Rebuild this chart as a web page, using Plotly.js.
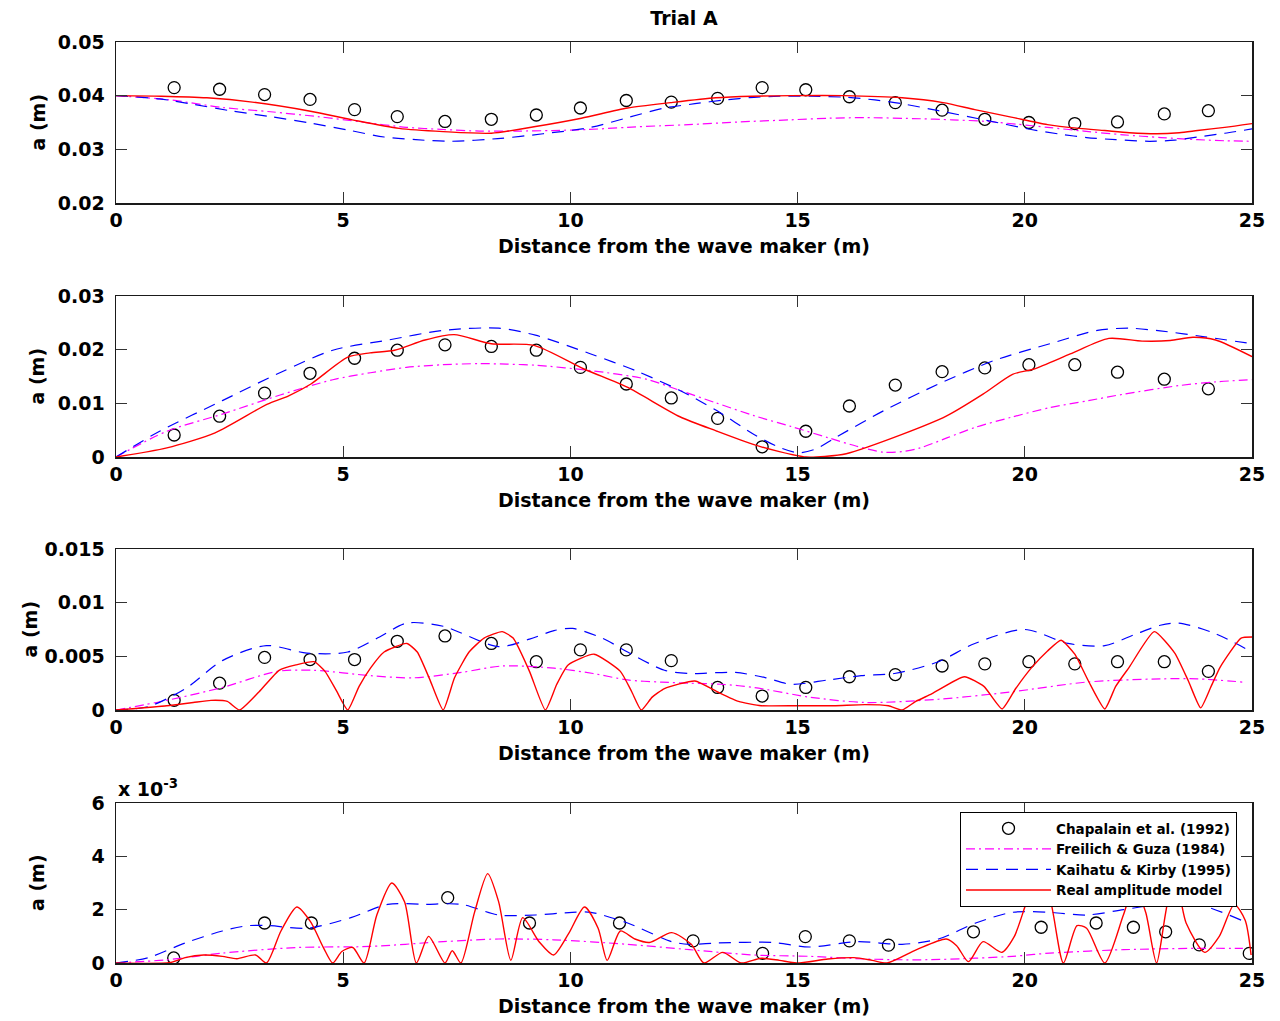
<!DOCTYPE html>
<html>
<head>
<meta charset="utf-8">
<script src="https://cdn.plot.ly/plotly-3.0.1.min.js"></script>
<style>html,body{margin:0;padding:0;background:#fff}#chart{width:1280px;height:1021px}</style>
</head>
<body>
<div id="chart"></div>
<script>
// ---------- Data (a in metres, x in metres) ----------
var xObs = [1.28,2.28,3.27,4.27,5.25,6.19,7.24,8.26,9.25,10.22,11.23,12.22,13.24,14.22,15.18,16.14,17.15,18.18,19.12,20.09,21.1,22.04,23.07,24.04];
var obs1 = [0.0415,0.0412,0.0402,0.0393,0.0374,0.0361,0.0352,0.0356,0.0364,0.0377,0.0391,0.0388,0.0395,0.0415,0.0411,0.0398,0.0387,0.0373,0.0356,0.0350,0.0348,0.0351,0.0366,0.0372];
var obs2 = [0.0041,0.0076,0.0119,0.0156,0.0184,0.0199,0.0209,0.0206,0.0199,0.0167,0.0136,0.0110,0.0072,0.0019,0.0048,0.0095,0.0134,0.0159,0.0166,0.0172,0.0172,0.0158,0.0145,0.0127];
var obs3 = [0.0009,0.0025,0.0049,0.0047,0.0047,0.0064,0.0069,0.0062,0.0045,0.0056,0.0056,0.0046,0.0021,0.0013,0.0021,0.0031,0.0033,0.0041,0.0043,0.0045,0.0043,0.0045,0.0045,0.0036];
var xObs4 = [1.27,3.27,4.3,7.3,9.1,11.08,12.7,14.23,15.17,16.14,17.0,18.87,20.36,21.57,22.39,23.1,23.84,24.94];
var obs4 = [0.00019,0.0015,0.0015,0.00245,0.0015,0.0015,0.00083,0.00036,0.00099,0.00083,0.00067,0.00117,0.00134,0.0015,0.00134,0.00117,0.00068,0.00036];

// Panel 1 models
var xFG1 = [0,1.2,2.34,3.4,4.44,5.4,6.39,7.2,8.0,8.8,9.6,10.4,11.26,12.0,12.6,13.7,14.85,15.7,16.48,17.7,18.4,19.16,19.8,20.5,21.3,22.17,23.0,23.8,24.4,25];
var yFG1 = [0.0400,0.0392,0.0378,0.0370,0.0361,0.0351,0.0341,0.0337,0.0334,0.0334,0.0335,0.0337,0.0341,0.0344,0.0346,0.0351,0.0355,0.0358,0.0359,0.0357,0.0355,0.0352,0.0347,0.0341,0.0334,0.0327,0.0322,0.0318,0.0316,0.0315];
var xKK1 = [0,0.96,1.7,2.5,3.4,4.28,5.1,5.9,6.6,7.36,8.4,9.4,10.45,11.3,12.07,12.74,13.4,14.04,14.6,15.26,16.07,16.7,17.3,18.1,19.16,20.14,20.8,21.36,22.0,22.74,23.3,23.8,24.4,25];
var yKK1 = [0.0400,0.0394,0.0384,0.0372,0.0361,0.0349,0.0336,0.0323,0.0318,0.0315,0.0320,0.0329,0.0341,0.0360,0.0377,0.0385,0.0392,0.0397,0.0399,0.0399,0.0397,0.0392,0.0385,0.0372,0.0354,0.0337,0.0328,0.0322,0.0318,0.0315,0.0317,0.0323,0.0330,0.0338];
var xRM1 = [0,1.0,2.0,3.0,4.28,5.2,6.23,7.2,8.26,9.2,10.24,11.26,12.21,13.2,14.0,14.85,16.0,17.3,18.2,18.9,19.7,20.5,21.2,21.76,22.3,22.9,23.4,23.8,24.4,25];
var yRM1 = [0.0400,0.0399,0.0396,0.0388,0.0371,0.0355,0.0339,0.0333,0.0330,0.0342,0.0358,0.0377,0.0387,0.0396,0.0399,0.0400,0.0400,0.0396,0.0387,0.0374,0.0360,0.0346,0.0339,0.0335,0.0331,0.0329,0.0331,0.0335,0.0341,0.0348];

// Panel 2 models
var xFG2 = [0,1.12,2.34,3.63,4.77,5.6,6.39,7.2,8.0,8.6,9.23,10.45,11.67,12.41,13.2,14.04,14.85,15.67,16.3,16.89,17.3,17.7,18.3,18.9,19.7,20.55,21.4,22.17,23.39,24.2,25];
var yFG2 = [0,0.0048,0.0080,0.0116,0.0144,0.0157,0.0167,0.0172,0.0174,0.0173,0.0171,0.0161,0.0145,0.0124,0.0101,0.0077,0.0057,0.0036,0.0020,0.0009,0.0010,0.0017,0.0036,0.0055,0.0074,0.0092,0.0105,0.0117,0.0133,0.0140,0.0144];
var xKK2 = [0,0.96,2.34,3.63,4.77,5.99,7.2,8.42,9.23,10.45,11.43,12.41,13.23,14.04,14.6,15.02,15.4,15.83,16.89,18.1,19.33,20.55,21.6,22.3,22.98,23.96,25];
var yKK2 = [0,0.0048,0.0105,0.0158,0.0199,0.0218,0.0236,0.0240,0.0227,0.0192,0.0161,0.0124,0.0086,0.0042,0.0018,0.0008,0.0015,0.0036,0.0086,0.0136,0.0180,0.0211,0.0236,0.0240,0.0235,0.0224,0.0211];
var xRM2 = [0,1.12,2.18,3.32,3.8,4.29,5.1,5.59,6.13,6.8,7.44,8.26,9.2,10.3,11.25,12.41,13.23,14.04,14.6,15.18,15.6,16.07,17.3,18.27,19.08,19.73,20.2,21.0,21.85,22.58,23.2,23.7,24.2,25];
var yRM2 = [0,0.0017,0.0045,0.0098,0.0114,0.0136,0.0186,0.0194,0.0199,0.0218,0.0228,0.0211,0.0208,0.0164,0.0130,0.0075,0.0048,0.0023,0.0010,0.0000,0.0001,0.0006,0.0042,0.0076,0.0117,0.0154,0.0164,0.0192,0.0221,0.0216,0.0217,0.0223,0.0218,0.0187];

// Panel 3 models
var xFG3 = [0,1.12,2.34,3.55,4.36,5.6,6.55,7.6,8.5,9.64,10.5,11.26,12.0,12.62,13.3,14.04,15.26,16.48,18.1,19.73,21.36,22.98,23.8,24.8];
var yFG3 = [0,0.0009,0.0021,0.0036,0.0037,0.0032,0.0030,0.0035,0.0041,0.0039,0.0034,0.0028,0.0026,0.0025,0.0024,0.0021,0.0012,0.0007,0.0010,0.0017,0.0026,0.0029,0.0029,0.0026];
var xKK3 = [0,0.7,1.53,2.34,3.31,4.2,5.1,5.8,6.4,7.2,8.42,9.1,9.64,10.05,10.7,11.26,12.07,12.62,13.63,14.3,14.85,15.67,16.4,17.13,18.1,18.9,20.0,20.95,21.76,22.4,22.98,23.39,24.2,25];
var yKK3 = [0,0.0003,0.0020,0.0046,0.0060,0.0053,0.0054,0.0068,0.0081,0.0078,0.0059,0.0066,0.0074,0.0076,0.0067,0.0054,0.0037,0.0034,0.0035,0.0030,0.0024,0.0028,0.0032,0.0034,0.0045,0.0062,0.0075,0.0062,0.0060,0.0070,0.0079,0.0081,0.0071,0.0054];
var xRM3 = [0,1.12,1.7,2.09,2.45,2.72,3.15,3.59,3.96,4.36,4.6,4.85,5.1,5.35,5.6,5.9,6.4,6.63,6.9,7.2,7.45,7.77,8.1,8.5,8.74,9.1,9.45,9.7,9.95,10.52,11.1,11.35,11.56,11.8,12.07,12.74,13.23,13.7,14.2,15.0,15.8,16.48,17.0,17.3,17.6,17.95,18.67,19.1,19.5,19.8,20.14,20.5,20.8,21.1,21.4,21.76,22.0,22.3,22.85,23.3,23.6,23.87,24.1,24.3,24.76,25];
var yRM3 = [0,0.0004,0.0007,0.0009,0.0008,0.0000,0.0017,0.0037,0.0042,0.0045,0.0036,0.0018,0.0000,0.0022,0.0039,0.0054,0.0062,0.0054,0.0029,0.0000,0.0030,0.0054,0.0067,0.0073,0.0067,0.0036,0.0000,0.0024,0.0042,0.0052,0.0036,0.0017,0.0000,0.0012,0.0020,0.0027,0.0017,0.0008,0.0004,0.0004,0.0004,0.0005,0.0004,0.0000,0.0008,0.0015,0.0031,0.0022,0.0001,0.0020,0.0039,0.0055,0.0065,0.0052,0.0027,0.0001,0.0022,0.0040,0.0073,0.0053,0.0027,0.0002,0.0022,0.0040,0.0067,0.0068];

// Panel 4 models
var xFG4 = [0,1.12,2.34,3.96,5.58,7.2,8.42,9.63,11.26,12.62,14.04,15.26,16.48,17.7,18.92,19.73,20.55,22.17,23.8,24.8];
var yFG4 = [0,0.00012,0.00037,0.00058,0.00062,0.0008,0.0009,0.00087,0.0007,0.0005,0.0003,0.00025,0.00015,0.00012,0.00018,0.00025,0.00037,0.0005,0.00055,0.00055];
var xKK4 = [0,0.71,1.52,2.34,2.9,3.39,4.2,5.17,5.98,6.8,7.6,8.42,9.23,10.04,10.45,11.26,12.23,12.62,13.23,14.45,15.26,16.32,17.3,18.1,18.92,19.73,20.55,21.36,22.17,22.98,23.8,24.77];
var yKK4 = [0,0.0002,0.00075,0.0012,0.0014,0.0014,0.0013,0.0017,0.0022,0.0022,0.0022,0.0018,0.0018,0.0019,0.0019,0.0015,0.0008,0.0007,0.00075,0.00077,0.0006,0.0008,0.0007,0.0009,0.0015,0.0019,0.0019,0.0018,0.002,0.0022,0.0022,0.0016];
var xRM4 = [0,1.2,1.52,1.93,2.34,2.66,3.07,3.31,3.63,3.98,4.28,4.57,4.77,4.97,5.21,5.46,5.74,6.07,6.35,6.61,6.88,7.24,7.4,7.59,7.89,8.18,8.42,8.69,8.95,9.31,9.63,9.96,10.31,10.61,10.81,11.1,11.42,11.74,12.23,12.66,12.94,13.35,13.76,14.2,14.6,14.98,15.67,16.24,16.64,16.97,17.62,18.27,18.5,18.76,19.08,19.49,19.77,20.14,20.34,20.54,20.85,21.15,21.36,21.76,22.17,22.41,22.66,22.9,23.18,23.35,23.55,23.96,24.28,24.61,24.85,24.98];
var yRM4 = [0,0.00002,0.0002,0.0003,0.00025,0.00016,0.0003,0,0.0012,0.0021,0.00155,0.00056,0,0.00043,0.00058,0,0.0018,0.003,0.0023,0,0.001,0,0.00046,0,0.0019,0.00335,0.0023,0.0001,0.0017,0.0008,0.0003,0.0011,0.0021,0.0013,0.0001,0.0012,0.0009,0.00077,0.00114,0.0007,0,0.0004,0,0.00018,0.0001,0,0.00015,0.0002,0.0001,0,0.0005,0.0009,0.00065,0.00005,0.0008,0.0004,0.001,0.0027,0.003,0.0025,0,0.0014,0.0013,0,0.0018,0.0029,0.0019,0,0.0025,0.0028,0.0015,0.0004,0.001,0.0022,0.0016,0.0003];

var legendNames = ['Chapalain et al. (1992)','Freilich & Guza (1984)','Kaihatu & Kirby (1995)','Real amplitude model'];
var xTickVals = [0,5,10,15,20,25];
var yTicks = [
  {vals:[0.02,0.03,0.04,0.05], text:['0.02','0.03','0.04','0.05'], range:[0.02,0.05]},
  {vals:[0,0.01,0.02,0.03], text:['0','0.01','0.02','0.03'], range:[0,0.03]},
  {vals:[0,0.005,0.01,0.015], text:['0','0.005','0.01','0.015'], range:[0,0.015]},
  {vals:[0,0.002,0.004,0.006], text:['0','2','4','6'], range:[0,0.006]}
];

// ---------- Build ----------
var FONT = 'DejaVu Sans, Liberation Sans, Arial, sans-serif';
var panels = [
  {xo:xObs, yo:obs1, xf:xFG1, yf:yFG1, xk:xKK1, yk:yKK1, xr:xRM1, yr:yRM1, sm:0.7},
  {xo:xObs, yo:obs2, xf:xFG2, yf:yFG2, xk:xKK2, yk:yKK2, xr:xRM2, yr:yRM2, sm:0.7},
  {xo:xObs, yo:obs3, xf:xFG3, yf:yFG3, xk:xKK3, yk:yKK3, xr:xRM3, yr:yRM3, sm:0.5},
  {xo:xObs4, yo:obs4, xf:xFG4, yf:yFG4, xk:xKK4, yk:yKK4, xr:xRM4, yr:yRM4, sm:0.7}
];
var traces = [];
panels.forEach(function(p, i){
  var ax = i === 0 ? '' : String(i+1);
  var show = (i === 0);
  traces.push({x:p.xo, y:p.yo, xaxis:'x'+ax, yaxis:'y'+ax, mode:'markers', type:'scatter',
    name:legendNames[0], legendgroup:'obs', showlegend:show,
    marker:{symbol:'circle-open', size:12, color:'#000', line:{width:1.3, color:'#000'}}});
  traces.push({x:p.xf, y:p.yf, xaxis:'x'+ax, yaxis:'y'+ax, mode:'lines', type:'scatter',
    name:legendNames[1], legendgroup:'fg', showlegend:show,
    line:{color:'#ff00ff', width:1.2, dash:'9px,4px,2px,4px', shape:'spline', smoothing:0.8}});
  traces.push({x:p.xk, y:p.yk, xaxis:'x'+ax, yaxis:'y'+ax, mode:'lines', type:'scatter',
    name:legendNames[2], legendgroup:'kk', showlegend:show,
    line:{color:'#0000ff', width:1.2, dash:'12px,8px', shape:'spline', smoothing:0.8}});
  traces.push({x:p.xr, y:p.yr, xaxis:'x'+ax, yaxis:'y'+ax, mode:'lines', type:'scatter',
    name:legendNames[3], legendgroup:'rm', showlegend:show,
    line:{color:'#ff0000', width:1.4, shape:'spline', smoothing:p.sm}});
});

var H = 921; // plot-area height in px (42..963)
var doms = [[(963-203)/H, 1], [(963-457)/H, (963-296)/H], [(963-710)/H, (963-549)/H], [0, (963-803)/H]];
var yTitleX = [37, 37, 29, 37];

var layout = {
  width:1280, height:1021,
  margin:{l:116, r:28, t:42, b:58},
  paper_bgcolor:'#fff', plot_bgcolor:'#fff',
  font:{family:FONT, size:19, color:'#000', weight:'bold'},
  title:{text:'Trial A', font:{family:FONT, size:19, weight:'bold', color:'#000'}, x:0.5, xref:'paper', xanchor:'center', y:1-18/1021, yanchor:'middle'},
  showlegend:true,
  legend:{x:(960-116)/1136, y:(963-812)/H, xanchor:'left', yanchor:'top', bgcolor:'#fff', bordercolor:'#000', borderwidth:1,
    font:{family:FONT, size:13.5, weight:'bold', color:'#000'}, itemwidth:85, tracegroupgap:0},
  annotations:[],
  hovermode:false
};

doms.forEach(function(d, i){
  var ax = i === 0 ? '' : String(i+1);
  layout['xaxis'+ax] = {
    domain:[0,1], anchor:'y'+ax, range:[0,25], tickvals:xTickVals, ticktext:xTickVals.map(String),
    ticks:'inside', ticklen:11, tickwidth:1.2, tickcolor:'#333', mirror:'ticks', showline:true, linecolor:'#1a1a1a', linewidth:1.5,
    showgrid:false, zeroline:false, tickfont:{family:FONT, size:19, weight:'bold'},
    title:{text:'Distance from the wave maker (m)', font:{family:FONT, size:19, weight:'bold'}, standoff:9}
  };
  layout['yaxis'+ax] = {
    domain:d, anchor:'x'+ax, range:yTicks[i].range, tickvals:yTicks[i].vals, ticktext:yTicks[i].text,
    ticks:'inside', ticklen:11, tickwidth:1.2, tickcolor:'#333', mirror:'ticks', showline:true, linecolor:'#1a1a1a', linewidth:1.5,
    showgrid:false, zeroline:false, tickfont:{family:FONT, size:19, weight:'bold'}, ticklabelstandoff:6
  };
  layout.annotations.push({text:'a (m)', xref:'paper', yref:'paper', x:(yTitleX[i]-116)/1136, y:(d[0]+d[1])/2,
    xanchor:'center', yanchor:'middle', textangle:-90, showarrow:false, font:{family:FONT, size:19, weight:'bold'}});
});
layout.annotations.push({text:'x 10<sup>-3</sup>', xref:'paper', yref:'paper', x:0, y:(963-788)/H,
  xanchor:'left', yanchor:'middle', showarrow:false, font:{family:FONT, size:19, weight:'bold'}});

Plotly.newPlot('chart', traces, layout, {displayModeBar:false, staticPlot:true});
</script>
</body>
</html>
